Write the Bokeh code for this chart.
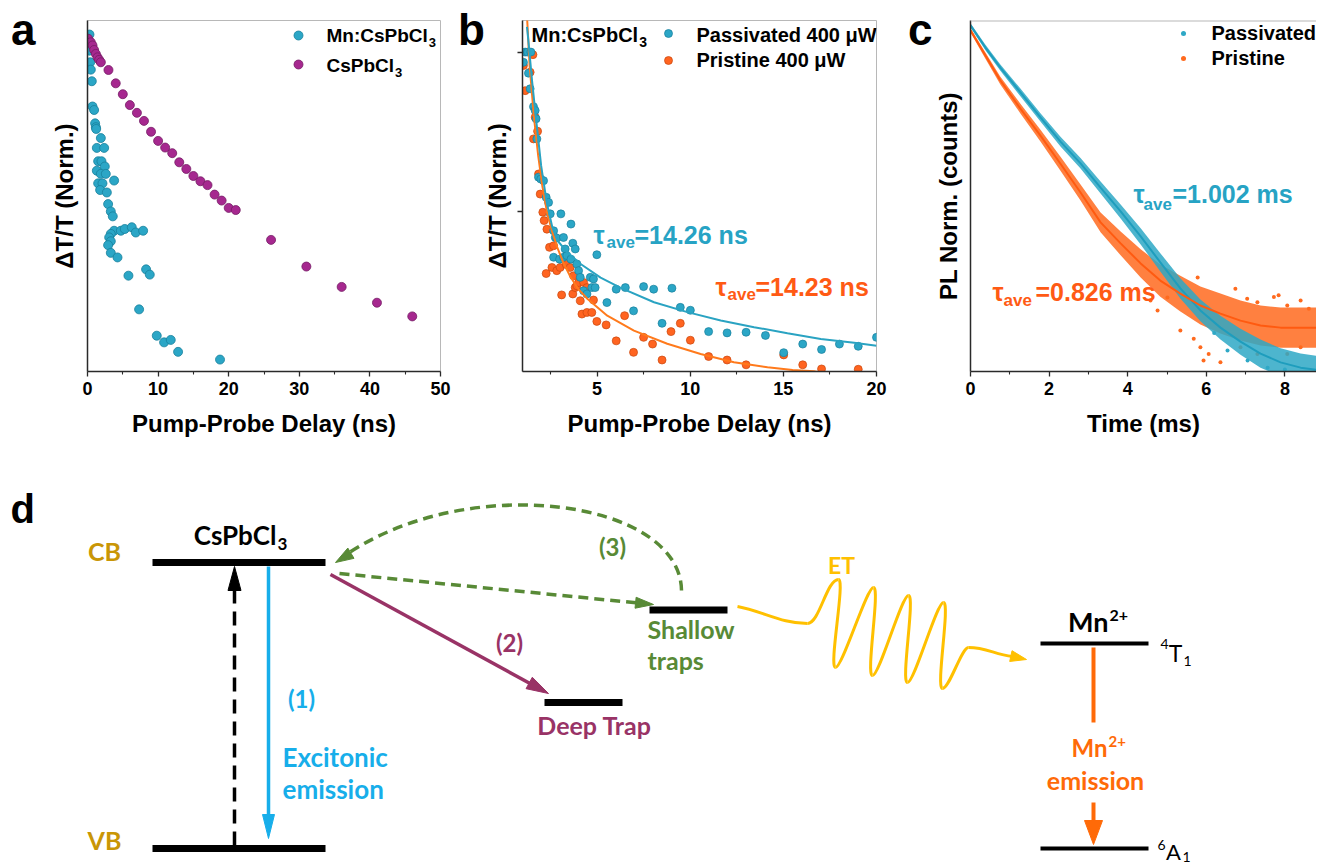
import math
from bokeh.plotting import figure
from bokeh.layouts import column, row
from bokeh.models import Range1d, Label, FixedTicker, Span, CustomJSTickFormatter, Div
from bokeh.core.properties import value
from bokeh.embed import file_html
from bokeh.resources import INLINE

# ====================== DATA ======================
# (a) pump-probe, normalised dT/T
a_mn_x = [0.28, 0.28, 0.28, 0.38, 0.47, 0.61, 0.71, 0.94, 1.08, 1.18, 1.23, 1.89, 1.32, 2.36, 1.51, 1.98, 2.45,
          1.32, 1.89, 2.59, 1.51, 2.12, 3.77, 1.79, 2.74, 2.92, 3.30, 3.58, 3.77, 3.30, 3.07, 3.30, 2.92, 3.30,
          4.25, 4.72, 5.28, 6.27, 6.84, 7.88, 5.80, 8.30, 8.82, 7.31, 9.81, 10.85, 11.79, 12.83, 18.77]
a_mn_y = [0.960, 0.933, 0.914, 0.881, 0.860, 0.827, 0.755, 0.745, 0.707, 0.696, 0.691, 0.665, 0.637, 0.637,
          0.599, 0.599, 0.584, 0.572, 0.563, 0.563, 0.536, 0.536, 0.544, 0.517, 0.510, 0.477, 0.456, 0.442,
          0.401, 0.392, 0.382, 0.371, 0.360, 0.338, 0.325, 0.401, 0.406, 0.411, 0.396, 0.401, 0.273, 0.291,
          0.276, 0.177, 0.102, 0.083, 0.090, 0.056, 0.034]
a_cs_x = [0.09, 0.47, 0.71, 0.94, 1.18, 1.42, 1.65, 1.89, 2.97, 4.0, 5.0, 6.0, 7.0, 8.0, 9.0, 10, 11, 12, 13,
          14, 15, 16, 17, 18, 19, 20, 21, 26, 31, 36, 41, 46]
a_cs_y = [0.948, 0.938, 0.929, 0.916, 0.905, 0.895, 0.888, 0.881, 0.859, 0.821, 0.790, 0.759, 0.737, 0.714,
          0.683, 0.657, 0.638, 0.622, 0.596, 0.577, 0.557, 0.542, 0.531, 0.504, 0.487, 0.466, 0.460, 0.375,
          0.299, 0.241, 0.196, 0.157]

# (b) passivated / pristine, points and fits
b_pas_x = [1.05, 1.14, 1.27, 1.45, 1.32, 1.41, 1.59, 1.68, 1.73, 1.77, 1.86, 1.98, 2.13, 2.27, 2.40, 2.49,
           2.67, 2.76, 2.84, 3.06, 3.20, 3.29, 3.60, 3.70, 3.83, 2.67, 2.99, 3.20, 3.38, 3.60, 3.92, 4.01,
           4.10, 4.28, 4.46, 4.64, 4.72, 4.81, 4.90, 4.99, 5.53, 6.03, 6.52, 7.50, 8.04, 9.02, 6.96, 8.49,
           9.47, 10.01, 10.99, 11.98, 13.00, 14.04, 15.02, 16.04, 17.05, 18.01, 19.02, 20.0]
b_pas_y = [0.969, 1.001, 1.001, 1.001, 0.935, 0.886, 0.830, 0.818, 0.792, 0.729, 0.609, 0.603, 0.598, 0.546,
           0.530, 0.494, 0.441, 0.420, 0.418, 0.494, 0.420, 0.384, 0.462, 0.402, 0.384, 0.358, 0.352, 0.358,
           0.363, 0.352, 0.337, 0.316, 0.295, 0.253, 0.243, 0.295, 0.263, 0.290, 0.263, 0.366, 0.216, 0.258,
           0.263, 0.266, 0.258, 0.261, 0.190, 0.151, 0.201, 0.192, 0.125, 0.121, 0.123, 0.113, 0.059, 0.086,
           0.069, 0.086, 0.079, 0.107]
b_pri_x = [1.05, 1.14, 1.41, 1.56, 1.68, 1.81, 1.59, 1.86, 1.95, 2.09, 2.16, 2.31, 2.45, 2.67, 2.27, 2.58,
           2.84, 3.02, 3.10, 3.35, 3.56, 3.70, 3.74, 3.83, 3.92, 4.01, 4.10, 4.28, 4.46, 4.81, 4.19, 4.46,
           4.72, 4.99, 5.49, 6.03, 6.48, 6.96, 7.50, 7.98, 8.49, 8.97, 9.47, 10.01, 10.99, 11.98, 13.00, 15.02,
           16.04, 17.05, 19.02]
b_pri_y = [0.959, 0.880, 0.938, 0.993, 0.797, 0.753, 0.729, 0.619, 0.556, 0.499, 0.473, 0.446, 0.389, 0.394,
           0.307, 0.326, 0.316, 0.326, 0.240, 0.335, 0.326, 0.243, 0.300, 0.263, 0.269, 0.279, 0.222, 0.279,
           0.263, 0.224, 0.180, 0.185, 0.185, 0.157, 0.146, 0.096, 0.175, 0.060, 0.107, 0.086, 0.036, 0.125,
           0.151, 0.098, 0.047, 0.036, 0.021, 0.052, 0.021, 0.008, 0.007]
b_pas_fit_x = [1.24, 1.31, 1.52, 1.74, 2.00, 2.30, 2.60, 2.95, 3.40, 4.12, 5.19, 6.27, 8.06, 9.85, 11.64,
               13.43, 15.22, 17.01, 18.80, 20.0]
b_pas_fit_y = [1.08, 1.04, 0.907, 0.785, 0.645, 0.530, 0.452, 0.405, 0.374, 0.337, 0.294, 0.262, 0.217,
               0.186, 0.160, 0.139, 0.120, 0.102, 0.090, 0.081]
b_pri_fit_x = [1.20, 1.38, 1.61, 1.84, 2.06, 2.33, 2.60, 2.86, 3.20, 3.58, 4.00, 4.48, 5.55, 6.98, 8.77,
               10.56, 12.35, 14.15, 15.5, 16.65, 17.5]
b_pri_fit_y = [1.16, 0.96, 0.80, 0.677, 0.583, 0.494, 0.437, 0.390, 0.340, 0.296, 0.258, 0.228, 0.175,
               0.128, 0.087, 0.055, 0.029, 0.013, 0.005, 0.001, -0.01]

# (c) Mn PL decay: dense data band (centre and half-spread) + stray points
c_t = [0.00, 0.38, 0.76, 1.27, 1.78, 2.29, 2.80, 3.31, 3.82, 4.33, 4.83, 5.34, 5.85, 6.36, 6.87, 7.38,
       7.89, 8.40, 8.91]
c_pas = [0.986, 0.923, 0.866, 0.795, 0.724, 0.655, 0.593, 0.524, 0.456, 0.385, 0.311, 0.237, 0.174, 0.125,
         0.085, 0.051, 0.026, 0.011, 0.003]
c_pas_spread = [0.006, 0.008, 0.009, 0.011, 0.012, 0.014, 0.015, 0.017, 0.020, 0.023, 0.026, 0.029, 0.031,
                0.034, 0.037, 0.040, 0.040, 0.040, 0.040]
c_pri = [0.972, 0.900, 0.829, 0.749, 0.672, 0.592, 0.510, 0.425, 0.365, 0.308, 0.259, 0.222, 0.188, 0.165,
         0.145, 0.131, 0.125, 0.125, 0.125]
c_pri_spread = [0.006, 0.009, 0.011, 0.014, 0.017, 0.020, 0.023, 0.028, 0.034, 0.040, 0.046, 0.051, 0.054,
                0.057, 0.057, 0.057, 0.057, 0.057, 0.057]
c_pri_out_x = [6.74, 7.04, 7.30, 7.72, 8.06, 8.40, 8.61, 7.84, 5.78, 5.01, 4.58, 4.76, 5.34, 5.68, 5.85,
               6.06, 6.36, 5.93, 6.87, 7.30, 8.06, 8.40]
c_pri_out_y = [0.236, 0.207, 0.197, 0.212, 0.188, 0.202, 0.179, 0.217, 0.268, 0.211, 0.202, 0.174, 0.117,
               0.093, 0.069, 0.050, 0.026, 0.031, 0.069, 0.050, 0.050, 0.069]
c_pas_out_x = [6.54, 7.05, 7.56, 8.00, 6.20]
c_pas_out_y = [0.060, 0.031, 0.011, 0.006, 0.110]

# ====================== STYLE ======================
FONT = "Liberation Sans"
DFONT = "Lato"
CYAN, CYAN_D, CYAN_T = "#2ba6c6", "#18809c", "#27a3c4"
PURP, PURP_D = "#a6288f", "#751c65"
ORNG, ORNG_D, ORNG_T = "#ff6420", "#c8470e", "#ff5a14"

AW = {' ': 278, '(': 333, ')': 333, '-': 333, '.': 278, ':': 333, '=': 584, 'A': 722, 'C': 722, 'D': 722,
      'L': 611, 'M': 833, 'N': 722, 'P': 667, 'T': 611, 'W': 944, 'a': 556, 'b': 611, 'c': 556, 'd': 611,
      'e': 556, 'i': 278, 'l': 278, 'm': 889, 'n': 611, 'o': 611, 'p': 611, 'r': 389, 's': 556, 't': 333,
      'u': 611, 'v': 556, 'y': 556}


def tw(s, size):
    return sum(AW.get(ch, 556) for ch in s) / 1000.0 * size


def lab(p, text, sx, base, size, color="black", style="bold", align="left"):
    # base = alphabetic baseline (screen px above frame bottom); text is centred on its cap height
    p.add_layout(Label(x=sx, y=base + 0.36 * size, x_units="screen", y_units="screen", text=text, text_font=FONT,
                       text_font_size=f"{size}px", text_font_style=style, text_color=color,
                       text_align=align, text_baseline="middle"))


def panel(frame_w, xr, yr, left, right, xticks, xminor, xlabel):
    p = figure(frame_width=frame_w, frame_height=351, x_range=Range1d(*xr), y_range=Range1d(*yr),
               min_border_left=left, min_border_right=right, min_border_top=20, min_border_bottom=87,
               toolbar_location=None, output_backend="svg")
    p.grid.visible = False
    p.outline_line_color = "#b8b8b8"
    for ax in (p.xaxis[0], p.yaxis[0]):
        ax.axis_line_color = "#2a2a2a"
        ax.axis_line_width = 1.5
        ax.major_tick_line_color = "#2a2a2a"
        ax.minor_tick_line_color = "#2a2a2a"
        ax.major_tick_line_width = 1.3
        ax.minor_tick_line_width = 1.1
        ax.major_tick_in = 0
        ax.minor_tick_in = 0
        ax.axis_label_text_font = FONT
        ax.axis_label_text_font_size = "24px"
        ax.axis_label_text_font_style = "bold"
        ax.axis_label_text_color = "black"
        ax.major_label_text_font = FONT
        ax.major_label_text_font_size = "18px"
        ax.major_label_text_font_style = "bold"
        ax.major_label_text_color = "black"
    xa = p.xaxis[0]
    xa.ticker = FixedTicker(ticks=xticks, minor_ticks=xminor)
    xa.major_tick_out = 5
    xa.minor_tick_out = 3
    xa.major_label_standoff = 5
    xa.axis_label = xlabel
    xa.axis_label_standoff = 12
    return p


# ---------------- panel a ----------------
pa = panel(353, (0, 50), (0, 1), 87, 12, [0, 10, 20, 30, 40, 50], [5, 15, 25, 35, 45], "Pump-Probe Delay (ns)")
ya = pa.yaxis[0]
ya.ticker = FixedTicker(ticks=[])
ya.axis_label = "ΔT/T (Norm.)"
ya.axis_label_standoff = 10
pa.scatter(a_mn_x, a_mn_y, size=9, fill_color=CYAN, line_color=CYAN_D, line_width=0.8)
pa.scatter(a_cs_x, a_cs_y, size=9, fill_color=PURP, line_color=PURP_D, line_width=0.8)
axp = lambda px: (px - 87) / 353 * 50
ayp = lambda py: (371 - py) / 351
pa.scatter([axp(298)], [ayp(35)], size=9, fill_color=CYAN, line_color=CYAN_D, line_width=0.8)
pa.scatter([axp(298)], [ayp(64)], size=9, fill_color=PURP, line_color=PURP_D, line_width=0.8)
lab(pa, "Mn:CsPbCl", 239, 329, 19)
lab(pa, "3", 239 + tw("Mn:CsPbCl", 19) + 1, 324, 13)
lab(pa, "CsPbCl", 239, 299, 19)
lab(pa, "3", 239 + tw("CsPbCl", 19) + 1, 294, 13)

# ---------------- panel b ----------------
pb = panel(354, (1, 20), (0, 1.1), 70, 12, [5, 10, 15, 20], [2.5, 7.5, 12.5, 17.5], "Pump-Probe Delay (ns)")
yb = pb.yaxis[0]
yb.ticker = FixedTicker(ticks=[0.5, 1.0])
yb.formatter = CustomJSTickFormatter(code="return ''")
yb.major_tick_out = 5
yb.axis_label = "ΔT/T (Norm.)"
yb.axis_label_standoff = 7
pb.scatter(b_pri_x, b_pri_y, size=8, fill_color=ORNG, line_color=ORNG_D, line_width=0.7)
pb.scatter(b_pas_x, b_pas_y, size=8, fill_color=CYAN, line_color=CYAN_D, line_width=0.7)
pb.line(b_pri_fit_x, b_pri_fit_y, line_color="#ff7a1c", line_width=2)
pb.line(b_pas_fit_x, b_pas_fit_y, line_color="#2aa3c2", line_width=2)
bxp = lambda px: 1 + (px - 522) / 354 * 19
byp = lambda py: (371 - py) / 351 * 1.1
pb.scatter([bxp(668)], [byp(33)], size=8, fill_color=CYAN, line_color=CYAN_D, line_width=0.7)
pb.scatter([bxp(668)], [byp(60)], size=8, fill_color=ORNG, line_color=ORNG_D, line_width=0.7)
lab(pb, "Mn:CsPbCl", 9, 329, 20)
lab(pb, "3", 9 + tw("Mn:CsPbCl", 20) + 1, 324, 14)
lab(pb, "Passivated 400 μW", 174, 329, 20)
lab(pb, "Pristine 400 μW", 174, 304, 20)
lab(pb, "τ", 71, 128, 25, CYAN_T)
lab(pb, "ave", 84, 123, 17, CYAN_T)
lab(pb, "=14.26 ns", 112, 128, 25, CYAN_T)
lab(pb, "τ", 193, 76, 25, ORNG_T)
lab(pb, "ave", 205, 71, 17, ORNG_T)
lab(pb, "=14.23 ns", 233, 76, 25, ORNG_T)

# ---------------- panel c ----------------
pc = panel(346, (0, 346 / 39.3), (0, 1), 82, 0, [0, 2, 4, 6, 8], [1, 3, 5, 7], "Time (ms)")
pc.outline_line_color = None
pc.add_layout(Span(location=1, dimension="width", line_color="#b8b8b8", line_width=2))
yc = pc.yaxis[0]
yc.ticker = FixedTicker(ticks=[])
yc.axis_label = "PL Norm. (counts)"
yc.axis_label_standoff = 9
pri_lo = [c - s for c, s in zip(c_pri, c_pri_spread)]
pri_hi = [c + s for c, s in zip(c_pri, c_pri_spread)]
pas_lo = [c - s for c, s in zip(c_pas, c_pas_spread)]
pas_hi = [c + s for c, s in zip(c_pas, c_pas_spread)]
pc.varea(x=c_t, y1=pri_lo, y2=pri_hi, fill_color="#ff6a1e", fill_alpha=0.85)
pc.scatter(c_pri_out_x, c_pri_out_y, size=4, fill_color="#ff6a1e", line_color=None)
pc.varea(x=c_t, y1=pas_lo, y2=pas_hi, fill_color="#2ea8c6", fill_alpha=0.85)
pc.scatter(c_pas_out_x, c_pas_out_y, size=4, fill_color="#2ea8c6", line_color=None)
pc.line(c_t, c_pas, line_color="#1e9dbd", line_width=2)
pc.line(c_t, c_pri, line_color="#ff5a10", line_width=2)
cxp = lambda px: (px - 970) / 39.3
cyp = lambda py: (371 - py) / 351
pc.scatter([cxp(1183)], [cyp(33)], size=5, fill_color="#2ea8c6", line_color=None)
pc.scatter([cxp(1183)], [cyp(58)], size=5, fill_color="#ff6a1e", line_color=None)
lab(pc, "Passivated", 241, 331, 20)
lab(pc, "Pristine", 241, 306, 20)
lab(pc, "τ", 163, 169, 25, CYAN_T)
lab(pc, "ave", 173, 161, 17, CYAN_T)
lab(pc, "=1.002 ms", 202, 169, 25, CYAN_T)
lab(pc, "τ", 22, 71, 25, ORNG_T)
lab(pc, "ave", 33, 65, 17, ORNG_T)
lab(pc, "=0.826 ms", 65, 71, 25, ORNG_T)

# ---------------- panel letters a, b, c (overlay) ----------------
letters_html = "".join(
    f'<span style="position:absolute;left:{x}px;top:8px;line-height:1;">{t}</span>'
    for t, x in (("a", 11), ("b", 458), ("c", 908))
)
letters = Div(text=letters_html, width=1, height=0, margin=(0, 0, 0, 0),
              styles={"position": "relative", "overflow": "visible", "z-index": "10",
                      "font-family": "Liberation Sans", "font-weight": "bold", "font-size": "44px",
                      "color": "black"})

# ---------------- panel d : energy diagram (page pixel coordinates) ----------------
DW, DTOP, DBOT = 1316, 458, 866
pd = figure(width=DW, height=DBOT - DTOP, x_range=Range1d(0, DW), y_range=Range1d(DBOT, DTOP),
            toolbar_location=None, output_backend="svg", min_border=0, x_axis_type=None, y_axis_type=None)
pd.grid.visible = False
pd.outline_line_color = None

D_CYAN, D_PURP, D_GREEN, D_YEL, D_ORG, D_GOLD = "#17aeea", "#993366", "#588a36", "#ffc000", "#ff6a08", "#c99606"


def dtext(x, y, s, color, size, align="left", style="bold", font=DFONT):
    # y = vertical centre of the text
    pd.text(x=[x], y=[y], text=[s], text_color=color, text_font=value(font), text_font_size=f"{size}px",
            text_font_style=style, text_align=align, text_baseline="middle")


def head(tx, ty, fx, fy, L, W):
    dx, dy = tx - fx, ty - fy
    d = math.hypot(dx, dy)
    ux, uy = dx / d, dy / d
    bx, by = tx - L * ux, ty - L * uy
    nx, ny = -uy, ux
    return [tx, bx + W / 2 * nx, bx - W / 2 * nx], [ty, by + W / 2 * ny, by - W / 2 * ny], (bx + 2 * ux, by + 2 * uy)


# energy levels
pd.segment(x0=[152, 152, 544, 649], y0=[562, 848, 702, 609.5], x1=[325, 325, 622, 727], y1=[562, 848, 702, 609.5],
           line_color="black", line_width=7)
pd.segment(x0=[1040, 1040], y0=[643, 848], x1=[1148, 1148], y1=[643, 848], line_color="black", line_width=4)

hx, hy, hc = [], [], []
# (1) excitonic emission
h = head(268, 838, 268, 566, 24, 12)
pd.line([268, h[2][0]], [566, h[2][1]], line_color=D_CYAN, line_width=3.5)
hx.append(h[0]); hy.append(h[1]); hc.append(D_CYAN)
# excitation (dashed black)
h = head(234, 566, 234, 845, 24, 13)
pd.line([234, h[2][0]], [845, h[2][1]], line_color="black", line_width=3.5, line_dash="14 8")
hx.append(h[0]); hy.append(h[1]); hc.append("black")
# (2) deep trap
h = head(548, 693, 330, 574, 22, 13)
pd.line([330, h[2][0]], [574, h[2][1]], line_color=D_PURP, line_width=3.5)
hx.append(h[0]); hy.append(h[1]); hc.append(D_PURP)
# shallow trap capture
h = head(653, 604, 339, 573, 18, 11)
pd.line([339, h[2][0]], [573, h[2][1]], line_color=D_GREEN, line_width=3.5, line_dash="10 6")
hx.append(h[0]); hy.append(h[1]); hc.append(D_GREEN)
# (3) detrapping back to CB (curved)
P0, P1, P2, P3 = (681, 590), (680, 500), (470, 470), (338, 560)
pd.bezier(x0=[P0[0]], y0=[P0[1]], x1=[P3[0] + 8], y1=[P3[1] - 6], cx0=[P1[0]], cy0=[P1[1]], cx1=[P2[0]],
          cy1=[P2[1]], line_color=D_GREEN, line_width=3.5, line_dash="10 6")
t = 0.93
bxq = (1 - t) ** 3 * P0[0] + 3 * (1 - t) ** 2 * t * P1[0] + 3 * (1 - t) * t ** 2 * P2[0] + t ** 3 * P3[0]
byq = (1 - t) ** 3 * P0[1] + 3 * (1 - t) ** 2 * t * P1[1] + 3 * (1 - t) * t ** 2 * P2[1] + t ** 3 * P3[1]
h = head(P3[0] - 3, P3[1] + 2, bxq, byq, 18, 12)
hx.append(h[0]); hy.append(h[1]); hc.append(D_GREEN)
# ET wave
wave = [(737, 606), (807, 623), (838, 579), (835, 667), (873, 587), (872, 675), (908, 595), (907, 682),
        (943, 602), (942, 688), (968, 647), (1012, 656)]
ks = [26, 12, 7, 7, 7, 7, 7, 7, 7, 7, 18]
wx0, wy0, wx1, wy1, wcx0, wcy0, wcx1, wcy1 = [], [], [], [], [], [], [], []
for i in range(len(wave) - 1):
    (xa_, ya_), (xb_, yb_) = wave[i], wave[i + 1]
    k = ks[i]
    wx0.append(xa_); wy0.append(ya_); wx1.append(xb_); wy1.append(yb_)
    wcx0.append(xa_ + k); wcy0.append(ya_ + (5 if i == 0 else 0))
    wcx1.append(xb_ - k); wcy1.append(yb_ - (2 if i == len(wave) - 2 else 0))
pd.bezier(x0=wx0, y0=wy0, x1=wx1, y1=wy1, cx0=wcx0, cy0=wcy0, cx1=wcx1, cy1=wcy1, line_color=D_YEL, line_width=3)
h = head(1026, 659, 1010, 655.5, 16, 11)
hx.append(h[0]); hy.append(h[1]); hc.append(D_YEL)
# Mn emission
pd.line([1093, 1093], [647, 722], line_color=D_ORG, line_width=4)
h = head(1093, 844, 1093, 802, 24, 18)
pd.line([1093, h[2][0]], [802, h[2][1]], line_color=D_ORG, line_width=4)
hx.append(h[0]); hy.append(h[1]); hc.append(D_ORG)
pd.patches(xs=hx, ys=hy, fill_color=hc, line_color=hc, line_width=1)

# diagram texts (y = visual centre)
dtext(104, 550, "CB", D_GOLD, 25, align="center")
dtext(104, 839, "VB", D_GOLD, 25, align="center")
dtext(276, 534, "CsPbCl", "black", 26, align="right")
dtext(277, 543, "3", "black", 17)
dtext(301, 698, "(1)", D_CYAN, 24, align="center")
dtext(282, 756, "Excitonic", D_CYAN, 26)
dtext(282, 788, "emission", D_CYAN, 26)
dtext(509, 642, "(2)", D_PURP, 24, align="center")
dtext(594, 724, "Deep Trap", D_PURP, 25, align="center")
dtext(612, 546, "(3)", D_GREEN, 24, align="center")
dtext(647, 628, "Shallow", D_GREEN, 25)
dtext(647, 659, "traps", D_GREEN, 25)
dtext(841, 564, "ET", D_YEL, 23, align="center")
dtext(1108, 621, "Mn", "black", 27, align="right")
dtext(1109, 615, "2+", "black", 16)
dtext(1175, 652, "T", "black", 23, align="center", style="normal")
dtext(1168, 643, "4", "black", 14, align="right", style="normal")
dtext(1183, 660, "1", "black", 14, style="normal")
dtext(1107, 747, "Mn", D_ORG, 24, align="right")
dtext(1108, 741, "2+", D_ORG, 15)
dtext(1095, 779, "emission", D_ORG, 25, align="center")
dtext(1173, 851, "A", "black", 22, align="center", style="normal")
dtext(1165, 844, "6", "black", 14, align="right", style="normal")
dtext(1182, 856, "1", "black", 14, style="normal")
dtext(10, 508, "d", "black", 40, font=FONT)

layout = column(letters, row(pa, pb, pc, spacing=0), pd, spacing=0)
open("out.html", "w").write(file_html(layout, INLINE))
